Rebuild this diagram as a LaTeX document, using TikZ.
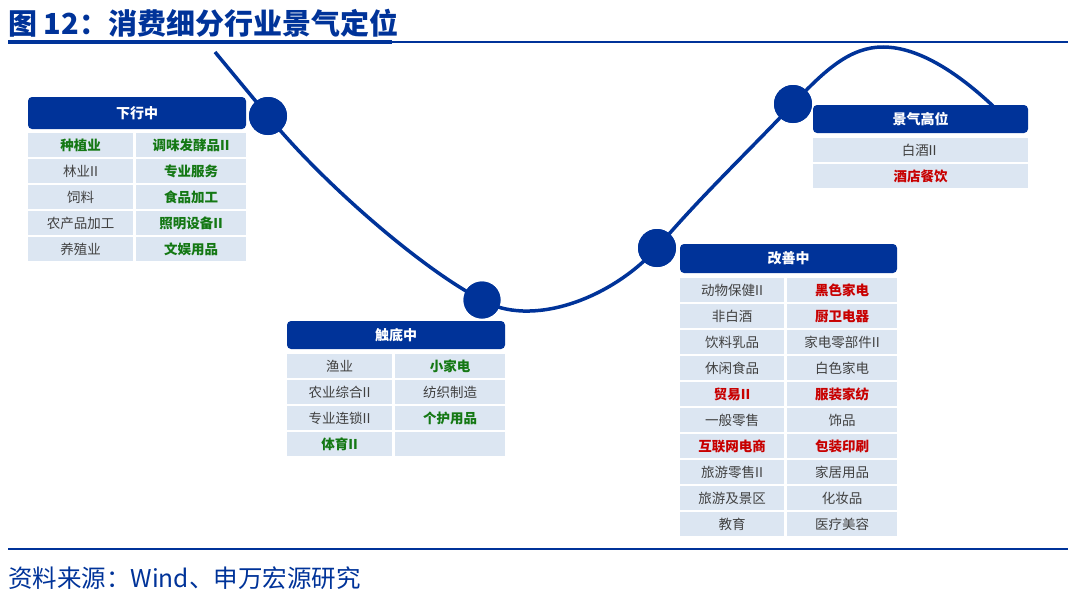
\documentclass[tikz,border=0pt]{standalone}
\usepackage{fontspec}
\newfontfamily\cjk{Noto Sans CJK SC}
\definecolor{myblue}{RGB}{0,51,153}
\definecolor{cellbg}{RGB}{220,230,242}
\definecolor{txtgray}{RGB}{64,64,64}
\definecolor{txtgreen}{RGB}{20,120,20}
\definecolor{txtred}{RGB}{200,0,0}
\begin{document}
\begin{tikzpicture}[x=1pt,y=-1pt,
  hdr/.style={fill=myblue, rounded corners=4pt, text=white, inner sep=0pt,
    font=\cjk\bfseries\fontsize{14}{14}\selectfont},
  cell/.style={fill=cellbg, minimum height=24pt, inner sep=0pt,
    font=\cjk\fontsize{13.5}{14}\selectfont, text=txtgray},
  cgray/.style={cell},
  cgreen/.style={cell, text=txtgreen, font=\cjk\bfseries\fontsize{13.5}{14}\selectfont},
  cred/.style={cell, text=txtred, font=\cjk\bfseries\fontsize{13.5}{14}\selectfont},
  dot/.style={circle, fill=myblue, minimum size=38pt, inner sep=0pt},
  curve/.style={draw=myblue, line width=3.5pt},
  wl/.style={minimum width=105pt}, wr/.style={minimum width=110pt}]
\useasboundingbox (0,0) rectangle (1080,597);

% title and rules
\node[anchor=west, inner sep=0pt, text=myblue, font=\cjk\bfseries\fontsize{29}{29}\selectfont] (title) at (8,23) {图 12：消费细分行业景气定位};
\draw[myblue, line width=1.6pt] (8,42) -- (1068,42);
\draw[myblue, line width=3.2pt] (8,42) -- (392,42);
\draw[myblue, line width=2pt] (8,549) -- (1068,549);
\node[anchor=west, inner sep=0pt, text=myblue, font=\cjk\fontsize{24.5}{24.5}\selectfont] (src) at (8,578) {资料来源：Wind、申万宏源研究};

% curve with dots
\coordinate (s) at (215,52);
\coordinate (pk) at (883,47);
\coordinate (e) at (993,106);
\node[dot] (c1) at (268,116) {};
\node[dot, minimum size=37pt] (c2) at (482,300) {};
\node[dot] (c3) at (657,248) {};
\node[dot] (c4) at (793,104) {};
\draw[curve] (s) -- (c1.center)
  .. controls (320,180) and (420,268) .. (c2.center)
  .. controls (530,328) and (610,300) .. (c3.center)
  .. controls (700,197) and (750,150) .. (c4.center)
  .. controls (825,70) and (850,47) .. (pk)
  .. controls (920,47) and (960,75) .. (e);
\node[dot] at (c1) {};
\node[dot, minimum size=37pt] at (c2) {};
\node[dot] at (c3) {};
\node[dot] at (c4) {};

% 下行中
\node[hdr, minimum width=218pt, minimum height=32pt] (h1) at (137,113) {下行中};
\node[cgreen, wl] (a1) at (80.5,145) {种植业};
\node[cgray, wl] (a2) at (80.5,171) {林业II};
\node[cgray, wl] (a3) at (80.5,197) {饲料};
\node[cgray, wl] (a4) at (80.5,223) {农产品加工};
\node[cgray, wl] (a5) at (80.5,249) {养殖业};
\node[cgreen, wr] (b1) at (191,145) {调味发酵品II};
\node[cgreen, wr] (b2) at (191,171) {专业服务};
\node[cgreen, wr] (b3) at (191,197) {食品加工};
\node[cgreen, wr] (b4) at (191,223) {照明设备II};
\node[cgreen, wr] (b5) at (191,249) {文娱用品};

% 触底中
\node[hdr, minimum width=218pt, minimum height=28pt] (h2) at (396,335) {触底中};
\node[cgray, wl] (m1) at (339.5,366) {渔业};
\node[cgray, wl] (m2) at (339.5,392) {农业综合II};
\node[cgray, wl] (m3) at (339.5,418) {专业连锁II};
\node[cgreen, wl] (m4) at (339.5,444) {体育II};
\node[cgreen, wr] (n1) at (450,366) {小家电};
\node[cgray, wr] (n2) at (450,392) {纺织制造};
\node[cgreen, wr] (n3) at (450,418) {个护用品};
\node[cgray, wr] (n4) at (450,444) {};

% 改善中
\node[hdr, minimum width=217pt, minimum height=29pt] (h3) at (788.5,258.5) {改善中};
\node[cgray, minimum width=104pt] (p1) at (732,290) {动物保健II};
\node[cgray, minimum width=104pt] (p2) at (732,316) {非白酒};
\node[cgray, minimum width=104pt] (p3) at (732,342) {饮料乳品};
\node[cgray, minimum width=104pt] (p4) at (732,368) {休闲食品};
\node[cred, minimum width=104pt] (p5) at (732,394) {贸易II};
\node[cgray, minimum width=104pt] (p6) at (732,420) {一般零售};
\node[cred, minimum width=104pt] (p7) at (732,446) {互联网电商};
\node[cgray, minimum width=104pt] (p8) at (732,472) {旅游零售II};
\node[cgray, minimum width=104pt] (p9) at (732,498) {旅游及景区};
\node[cgray, minimum width=104pt] (p10) at (732,524) {教育};
\node[cred, wr] (q1) at (842,290) {黑色家电};
\node[cred, wr] (q2) at (842,316) {厨卫电器};
\node[cgray, wr] (q3) at (842,342) {家电零部件II};
\node[cgray, wr] (q4) at (842,368) {白色家电};
\node[cred, wr] (q5) at (842,394) {服装家纺};
\node[cgray, wr] (q6) at (842,420) {饰品};
\node[cred, wr] (q7) at (842,446) {包装印刷};
\node[cgray, wr] (q8) at (842,472) {家居用品};
\node[cgray, wr] (q9) at (842,498) {化妆品};
\node[cgray, wr] (q10) at (842,524) {医疗美容};

% 景气高位
\node[hdr, minimum width=215pt, minimum height=28pt] (h4) at (920.5,119) {景气高位};
\node[cgray, minimum width=215pt] (t1) at (920.5,150) {白酒\kern-3pt Ⅱ};
\node[cred, minimum width=215pt] (t2) at (920.5,176) {酒店餐饮};
\end{tikzpicture}
\end{document}
